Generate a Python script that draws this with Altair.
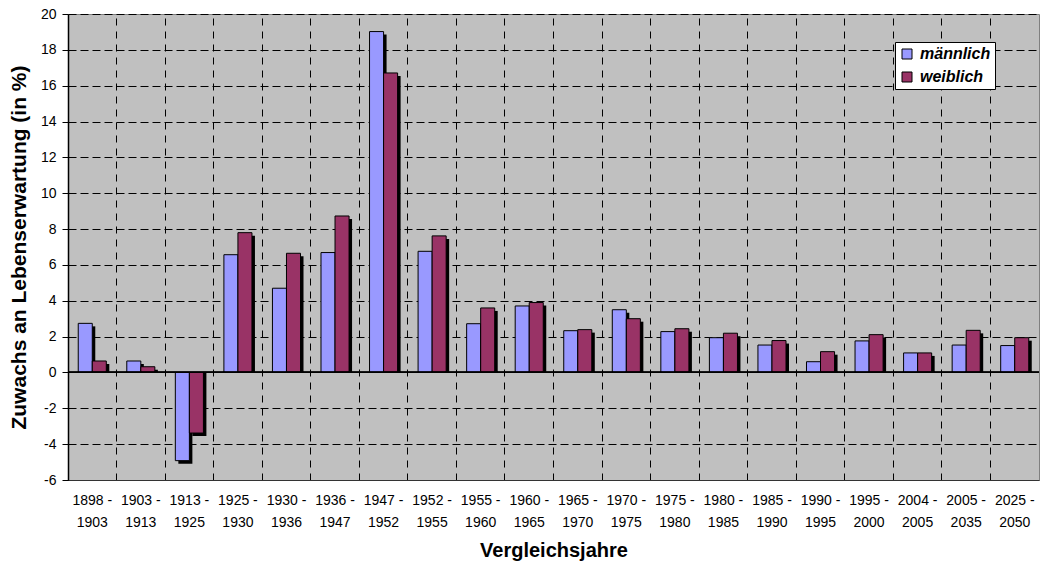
import altair as alt
import pandas as pd

# Comparison periods and the increase in life expectancy (in %)
periods = [
    "1898 - 1903", "1903 - 1913", "1913 - 1925", "1925 - 1930", "1930 - 1936",
    "1936 - 1947", "1947 - 1952", "1952 - 1955", "1955 - 1960", "1960 - 1965",
    "1965 - 1970", "1970 - 1975", "1975 - 1980", "1980 - 1985", "1985 - 1990",
    "1990 - 1995", "1995 - 2000", "2004 - 2005", "2005 - 2035", "2025 - 2050",
]
male = [2.74, 0.64, -4.92, 6.57, 4.70, 6.69, 19.02, 6.76, 2.72, 3.71,
        2.33, 3.50, 2.28, 1.94, 1.53, 0.60, 1.76, 1.09, 1.53, 1.50]
female = [0.64, 0.32, -3.38, 7.80, 6.65, 8.73, 16.71, 7.62, 3.60, 3.90,
          2.39, 3.00, 2.44, 2.19, 1.78, 1.16, 2.11, 1.09, 2.35, 1.94]

series = ["männlich", "weiblich"]
colors = ["#9999FF", "#993366"]
y_ticks = list(range(-6, 21, 2))

rows = []
for p, m, f in zip(periods, male, female):
    rows.append({"Zeitraum": p, "Geschlecht": series[0], "Wert": m})
    rows.append({"Zeitraum": p, "Geschlecht": series[1], "Wert": f})
df = pd.DataFrame(rows)

FONT = "Liberation Sans, Arial, sans-serif"
W, H = 971, 466
Y_MIN, Y_MAX = -6, 20
STEP = W / len(periods)
SHADOW = 3

x_scale = alt.Scale(domain=periods, paddingInner=0, paddingOuter=0)
off_scale = alt.Scale(domain=series, paddingInner=0, paddingOuter=0.73)
# same band layout, shifted a few pixels to the right for the drop shadow
shadow_off_scale = alt.Scale(domain=series, paddingInner=0, paddingOuter=0.73,
                             range=[SHADOW, STEP + SHADOW])
y_scale = alt.Scale(domain=[Y_MIN, Y_MAX], nice=False, zero=False)

y_axis = alt.Axis(
    values=y_ticks, tickCount=len(y_ticks) + 2,
    title="Zuwachs an Lebenserwartung (in %)",
    labelExpr="'' + datum.value", labelOverlap=False,
    grid=True, gridColor="black", gridDash=[8, 4], gridWidth=1,
    domainColor="black", domainWidth=1.5, tickColor="black", tickSize=6,
    labelFont=FONT, labelFontSize=14, labelColor="black", labelPadding=6,
    titleFont=FONT, titleFontSize=21, titleFontWeight="bold",
    titleColor="black", titlePadding=11,
)

base = alt.Chart(df)

# black drop shadow behind every bar (value end pushed down, baseline kept on
# zero); its axis carries the vertical dashed grid at the period boundaries
shadow = base.mark_bar(color="black", yOffset=SHADOW).encode(
    x=alt.X(
        "Zeitraum:N", scale=x_scale, sort=periods,
        axis=alt.Axis(orient="top", labels=False, ticks=False, domain=False,
                      title=None, grid=True, bandPosition=0,
                      gridColor="black", gridDash=[7, 6], gridWidth=1),
    ),
    xOffset=alt.XOffset("Geschlecht:N", scale=shadow_off_scale, sort=series),
    y=alt.Y("Wert:Q", scale=y_scale, axis=y_axis),
    y2=alt.datum(0),
)

bars = base.mark_bar(stroke="black", strokeWidth=1).encode(
    x=alt.X(
        "Zeitraum:N", scale=x_scale, sort=periods,
        axis=alt.Axis(
            orient="bottom", title="Vergleichsjahre", grid=False, ticks=False,
            domain=True, domainColor="#333333", domainWidth=1,
            labelAngle=0, labelFont=FONT, labelFontSize=14,
            labelColor="black", labelLineHeight=22, labelPadding=13,
            labelExpr="[substring(datum.label, 0, 6), substring(datum.label, 7)]",
            titleFont=FONT, titleFontSize=20, titleFontWeight="bold",
            titleColor="black", titlePadding=11,
        ),
    ),
    xOffset=alt.XOffset("Geschlecht:N", scale=off_scale, sort=series),
    y=alt.Y("Wert:Q", scale=y_scale, axis=y_axis),
    color=alt.Color(
        "Geschlecht:N", scale=alt.Scale(domain=series, range=colors),
        legend=alt.Legend(
            title=None, orient="none", legendX=827, legendY=28,
            fillColor="white", strokeColor="black", padding=4,
            symbolType="square", symbolSize=100, symbolStrokeColor="black",
            symbolStrokeWidth=1, labelFont=FONT, labelFontSize=16,
            labelFontStyle="italic", labelFontWeight="bold", labelColor="black",
            labelOffset=5, rowPadding=7,
        ),
    ),
)

zero_line = alt.Chart(df).mark_rule(color="black", strokeWidth=1).encode(
    y=alt.datum(0, scale=y_scale)
)

chart = (
    alt.layer(shadow, bars, zero_line)
    .resolve_axis(x="independent")
    .resolve_scale(xOffset="independent")
    .properties(
        width=W, height=H,
        autosize=alt.AutoSizeParams(type="none"),
        padding={"left": 68, "top": 14, "right": 1, "bottom": 85},
        background="white",
    )
    .configure_view(fill="#C0C0C0", stroke="#808080", strokeWidth=1)
    .configure_axisY(labelOverlap=False)
)

chart.save("out.html", embed_options={"renderer": "svg", "actions": False})
